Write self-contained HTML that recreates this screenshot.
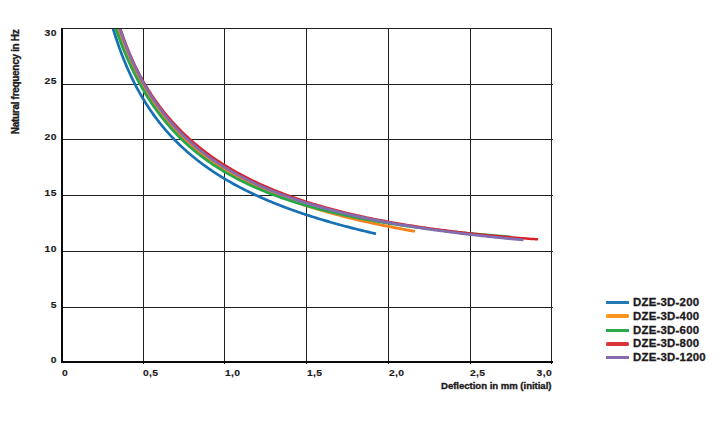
<!DOCTYPE html>
<html><head><meta charset="utf-8"><style>
html,body{margin:0;padding:0;background:#fff;width:722px;height:425px;overflow:hidden}
svg{display:block}
text{font-family:"Liberation Sans",sans-serif;font-weight:bold;fill:#1d1a1c;stroke:#1d1a1c;stroke-width:0.15px}
.t{font-size:9px;letter-spacing:0.3px}
.ti{font-size:9.6px;stroke-width:0.35px}
.lg{font-size:10.8px;letter-spacing:0.2px;stroke-width:0.3px}
</style></head><body>
<svg width="722" height="425" viewBox="0 0 722 425">
<defs><clipPath id="pc"><rect x="62" y="29" width="490" height="333"/></clipPath></defs>
<g shape-rendering="crispEdges">
<rect x="62" y="28" width="490" height="1" fill="#231f20"/>
<rect x="143" y="28" width="1" height="336" fill="#231f20"/>
<rect x="224" y="28" width="1" height="336" fill="#231f20"/>
<rect x="306" y="28" width="1" height="336" fill="#231f20"/>
<rect x="388" y="28" width="1" height="336" fill="#231f20"/>
<rect x="470" y="28" width="1" height="336" fill="#231f20"/>
<rect x="551" y="28" width="1" height="336" fill="#231f20"/>
<rect x="62" y="84" width="491" height="1" fill="#231f20"/>
<rect x="62" y="139" width="491" height="1" fill="#231f20"/>
<rect x="62" y="195" width="491" height="1" fill="#231f20"/>
<rect x="62" y="251" width="491" height="1" fill="#231f20"/>
<rect x="62" y="307" width="491" height="1" fill="#231f20"/>
<rect x="61" y="28" width="2" height="335" fill="#0d0a0b"/>
<rect x="61" y="361" width="492" height="2" fill="#0d0a0b"/>
</g>
<g clip-path="url(#pc)" fill="none" stroke-linejoin="round">
<path d="M104.00,-6.13 L104.91,-2.14 L105.82,1.72 L106.73,5.46 L107.64,9.09 L108.55,12.61 L109.46,16.03 L110.37,19.35 L111.28,22.58 L112.19,25.73 L113.10,28.78 L114.01,31.76 L114.92,34.66 L115.83,37.49 L116.74,40.25 L117.65,42.93 L118.56,45.56 L119.46,48.12 L120.37,50.62 L121.28,53.06 L122.19,55.45 L123.10,57.79 L124.01,60.07 L124.92,62.30 L125.83,64.49 L126.74,66.63 L127.65,68.73 L128.56,70.78 L129.47,72.79 L130.38,74.77 L131.29,76.70 L132.20,78.60 L133.11,80.46 L134.02,82.28 L134.93,84.07 L135.84,85.83 L136.75,87.56 L137.66,89.25 L138.57,90.92 L139.48,92.55 L140.39,94.16 L141.30,95.74 L142.21,97.29 L143.12,98.82 L144.03,100.32 L144.94,101.80 L145.85,103.26 L146.76,104.69 L147.67,106.10 L148.58,107.48 L149.48,108.85 L150.39,110.19 L151.30,111.52 L152.21,112.82 L153.12,114.11 L154.03,115.37 L154.94,116.62 L155.85,117.85 L156.76,119.06 L157.67,120.26 L158.58,121.43 L159.49,122.60 L160.40,123.74 L161.31,124.87 L162.22,125.99 L163.13,127.09 L164.04,128.18 L164.95,129.25 L165.86,130.31 L166.77,131.35 L167.68,132.38 L168.59,133.40 L169.50,134.40 L170.41,135.40 L171.32,136.38 L172.23,137.35 L173.14,138.30 L174.05,139.25 L174.96,140.18 L175.87,141.11 L176.78,142.02 L177.69,142.92 L178.60,143.81 L179.51,144.69 L180.41,145.57 L181.32,146.43 L182.23,147.28 L183.14,148.12 L184.05,148.95 L184.96,149.78 L185.87,150.59 L186.78,151.40 L187.69,152.20 L188.60,152.99 L189.51,153.77 L190.42,154.54 L191.33,155.30 L192.24,156.06 L193.15,156.81 L194.06,157.55 L194.97,158.29 L195.88,159.01 L196.79,159.73 L197.70,160.44 L198.61,161.15 L199.52,161.85 L200.43,162.54 L201.34,163.23 L202.25,163.90 L203.16,164.58 L204.07,165.24 L204.98,165.90 L205.89,166.55 L206.80,167.20 L207.71,167.84 L208.62,168.48 L209.53,169.11 L210.43,169.73 L211.34,170.35 L212.25,170.96 L213.16,171.57 L214.07,172.17 L214.98,172.77 L215.89,173.36 L216.80,173.95 L217.71,174.53 L218.62,175.11 L219.53,175.68 L220.44,176.25 L221.35,176.81 L222.26,177.36 L223.17,177.92 L224.08,178.47 L224.99,179.01 L225.90,179.55 L226.81,180.08 L227.72,180.61 L228.63,181.14 L229.54,181.66 L230.45,182.18 L231.36,182.69 L232.27,183.20 L233.18,183.71 L234.09,184.21 L235.00,184.71 L235.91,185.20 L236.82,185.69 L237.73,186.18 L238.64,186.66 L239.55,187.14 L240.45,187.62 L241.36,188.09 L242.27,188.56 L243.18,189.03 L244.09,189.49 L245.00,189.95 L245.91,190.40 L246.82,190.85 L247.73,191.30 L248.64,191.75 L249.55,192.19 L250.46,192.63 L251.37,193.06 L252.28,193.50 L253.19,193.93 L254.10,194.35 L255.01,194.78 L255.92,195.20 L256.83,195.62 L257.74,196.03 L258.65,196.44 L259.56,196.85 L260.47,197.26 L261.38,197.66 L262.29,198.07 L263.20,198.46 L264.11,198.86 L265.02,199.25 L265.93,199.65 L266.84,200.03 L267.75,200.42 L268.66,200.80 L269.57,201.18 L270.47,201.56 L271.38,201.94 L272.29,202.31 L273.20,202.68 L274.11,203.05 L275.02,203.42 L275.93,203.78 L276.84,204.15 L277.75,204.50 L278.66,204.86 L279.57,205.22 L280.48,205.57 L281.39,205.92 L282.30,206.27 L283.21,206.62 L284.12,206.96 L285.03,207.31 L285.94,207.65 L286.85,207.98 L287.76,208.32 L288.67,208.66 L289.58,208.99 L290.49,209.32 L291.40,209.65 L292.31,209.98 L293.22,210.30 L294.13,210.62 L295.04,210.94 L295.95,211.26 L296.86,211.58 L297.77,211.90 L298.68,212.21 L299.59,212.52 L300.49,212.83 L301.40,213.14 L302.31,213.45 L303.22,213.76 L304.13,214.06 L305.04,214.36 L305.95,214.66 L306.86,214.96 L307.77,215.26 L308.68,215.55 L309.59,215.85 L310.50,216.14 L311.41,216.43 L312.32,216.72 L313.23,217.01 L314.14,217.29 L315.05,217.58 L315.96,217.86 L316.87,218.14 L317.78,218.42 L318.69,218.70 L319.60,218.98 L320.51,219.25 L321.42,219.53 L322.33,219.80 L323.24,220.07 L324.15,220.34 L325.06,220.61 L325.97,220.88 L326.88,221.15 L327.79,221.41 L328.70,221.67 L329.61,221.94 L330.52,222.20 L331.42,222.46 L332.33,222.71 L333.24,222.97 L334.15,223.23 L335.06,223.48 L335.97,223.74 L336.88,223.99 L337.79,224.24 L338.70,224.49 L339.61,224.74 L340.52,224.98 L341.43,225.23 L342.34,225.47 L343.25,225.72 L344.16,225.96 L345.07,226.20 L345.98,226.44 L346.89,226.68 L347.80,226.92 L348.71,227.16 L349.62,227.39 L350.53,227.63 L351.44,227.86 L352.35,228.09 L353.26,228.32 L354.17,228.55 L355.08,228.78 L355.99,229.01 L356.90,229.24 L357.81,229.46 L358.72,229.69 L359.63,229.91 L360.54,230.14 L361.44,230.36 L362.35,230.58 L363.26,230.80 L364.17,231.02 L365.08,231.24 L365.99,231.46 L366.90,231.67 L367.81,231.89 L368.72,232.10 L369.63,232.32 L370.54,232.53 L371.45,232.74 L372.36,232.95 L373.27,233.16 L374.18,233.37 L375.09,233.58 L376.00,233.78" stroke="#1770b4" stroke-width="2.7" stroke-linecap="butt"/>
<path d="M104.00,-17.29 L105.04,-13.09 L106.08,-9.02 L107.12,-5.06 L108.16,-1.21 L109.20,2.53 L110.24,6.17 L111.28,9.72 L112.32,13.17 L113.36,16.54 L114.40,19.82 L115.44,23.01 L116.48,26.13 L117.52,29.17 L118.56,32.14 L119.60,35.04 L120.64,37.87 L121.68,40.63 L122.72,43.34 L123.76,45.98 L124.80,48.56 L125.84,51.09 L126.88,53.56 L127.92,55.98 L128.96,58.34 L130.00,60.66 L131.04,62.93 L132.08,65.16 L133.12,67.34 L134.16,69.47 L135.20,71.57 L136.24,73.62 L137.28,75.64 L138.32,77.61 L139.36,79.55 L140.40,81.45 L141.44,83.32 L142.48,85.15 L143.53,86.95 L144.57,88.72 L145.61,90.46 L146.65,92.16 L147.69,93.84 L148.73,95.49 L149.77,97.11 L150.81,98.70 L151.85,100.27 L152.89,101.81 L153.93,103.33 L154.97,104.82 L156.01,106.28 L157.05,107.73 L158.09,109.15 L159.13,110.55 L160.17,111.93 L161.21,113.28 L162.25,114.62 L163.29,115.93 L164.33,117.23 L165.37,118.51 L166.41,119.76 L167.45,121.00 L168.49,122.23 L169.53,123.43 L170.57,124.62 L171.61,125.79 L172.65,126.94 L173.69,128.08 L174.73,129.20 L175.77,130.31 L176.81,131.40 L177.85,132.48 L178.89,133.54 L179.93,134.59 L180.97,135.63 L182.01,136.65 L183.05,137.66 L184.09,138.65 L185.13,139.64 L186.17,140.61 L187.21,141.57 L188.25,142.51 L189.29,143.45 L190.33,144.37 L191.37,145.28 L192.41,146.19 L193.45,147.08 L194.49,147.96 L195.53,148.82 L196.57,149.68 L197.61,150.53 L198.65,151.37 L199.69,152.20 L200.73,153.02 L201.77,153.83 L202.81,154.63 L203.85,155.42 L204.89,156.21 L205.93,156.98 L206.97,157.75 L208.01,158.51 L209.05,159.26 L210.09,160.00 L211.13,160.73 L212.17,161.46 L213.21,162.17 L214.25,162.88 L215.29,163.59 L216.33,164.28 L217.37,164.97 L218.41,165.65 L219.45,166.33 L220.49,166.99 L221.54,167.65 L222.58,168.31 L223.62,168.95 L224.66,169.60 L225.70,170.23 L226.74,170.86 L227.78,171.48 L228.82,172.10 L229.86,172.71 L230.90,173.31 L231.94,173.91 L232.98,174.50 L234.02,175.09 L235.06,175.67 L236.10,176.24 L237.14,176.82 L238.18,177.38 L239.22,177.94 L240.26,178.50 L241.30,179.05 L242.34,179.59 L243.38,180.13 L244.42,180.67 L245.46,181.20 L246.50,181.72 L247.54,182.24 L248.58,182.76 L249.62,183.27 L250.66,183.78 L251.70,184.28 L252.74,184.78 L253.78,185.27 L254.82,185.76 L255.86,186.25 L256.90,186.73 L257.94,187.21 L258.98,187.68 L260.02,188.15 L261.06,188.62 L262.10,189.08 L263.14,189.54 L264.18,189.99 L265.22,190.44 L266.26,190.89 L267.30,191.33 L268.34,191.77 L269.38,192.21 L270.42,192.64 L271.46,193.07 L272.50,193.49 L273.54,193.92 L274.58,194.34 L275.62,194.75 L276.66,195.16 L277.70,195.57 L278.74,195.98 L279.78,196.38 L280.82,196.78 L281.86,197.18 L282.90,197.57 L283.94,197.96 L284.98,198.35 L286.02,198.74 L287.06,199.12 L288.10,199.50 L289.14,199.88 L290.18,200.25 L291.22,200.62 L292.26,200.99 L293.30,201.35 L294.34,201.72 L295.38,202.08 L296.42,202.44 L297.46,202.79 L298.51,203.14 L299.55,203.49 L300.59,203.84 L301.63,204.19 L302.67,204.53 L303.71,204.87 L304.75,205.21 L305.79,205.54 L306.83,205.88 L307.87,206.21 L308.91,206.54 L309.95,206.87 L310.99,207.19 L312.03,207.51 L313.07,207.83 L314.11,208.15 L315.15,208.47 L316.19,208.78 L317.23,209.09 L318.27,209.40 L319.31,209.71 L320.35,210.01 L321.39,210.32 L322.43,210.62 L323.47,210.92 L324.51,211.22 L325.55,211.51 L326.59,211.80 L327.63,212.10 L328.67,212.39 L329.71,212.67 L330.75,212.96 L331.79,213.24 L332.83,213.53 L333.87,213.81 L334.91,214.09 L335.95,214.37 L336.99,214.64 L338.03,214.91 L339.07,215.19 L340.11,215.46 L341.15,215.73 L342.19,215.99 L343.23,216.26 L344.27,216.52 L345.31,216.79 L346.35,217.05 L347.39,217.31 L348.43,217.56 L349.47,217.82 L350.51,218.07 L351.55,218.33 L352.59,218.58 L353.63,218.83 L354.67,219.08 L355.71,219.33 L356.75,219.57 L357.79,219.82 L358.83,220.06 L359.87,220.30 L360.91,220.54 L361.95,220.78 L362.99,221.02 L364.03,221.25 L365.07,221.49 L366.11,221.72 L367.15,221.95 L368.19,222.18 L369.23,222.41 L370.27,222.64 L371.31,222.87 L372.35,223.09 L373.39,223.32 L374.43,223.54 L375.47,223.76 L376.52,223.98 L377.56,224.20 L378.60,224.42 L379.64,224.64 L380.68,224.85 L381.72,225.07 L382.76,225.28 L383.80,225.49 L384.84,225.71 L385.88,225.92 L386.92,226.12 L387.96,226.33 L389.00,226.54 L390.04,226.74 L391.08,226.95 L392.12,227.15 L393.16,227.36 L394.20,227.56 L395.24,227.76 L396.28,227.96 L397.32,228.15 L398.36,228.35 L399.40,228.55 L400.44,228.74 L401.48,228.94 L402.52,229.13 L403.56,229.32 L404.60,229.51 L405.64,229.70 L406.68,229.89 L407.72,230.08 L408.76,230.27 L409.80,230.46 L410.84,230.64 L411.88,230.83 L412.92,231.01 L413.96,231.19 L415.00,231.37" stroke="#f5821f" stroke-width="2.9" stroke-linecap="butt"/>
<path d="M104.00,-10.80 L105.36,-5.66 L106.72,-0.69 L108.08,4.12 L109.44,8.77 L110.80,13.28 L112.16,17.64 L113.52,21.87 L114.88,25.96 L116.24,29.94 L117.60,33.80 L118.95,37.54 L120.31,41.18 L121.67,44.72 L123.03,48.15 L124.39,51.49 L125.75,54.74 L127.11,57.91 L128.47,60.99 L129.83,63.99 L131.19,66.91 L132.55,69.76 L133.91,72.53 L135.27,75.24 L136.63,77.88 L137.99,80.46 L139.35,82.97 L140.71,85.43 L142.07,87.82 L143.43,90.17 L144.79,92.46 L146.15,94.69 L147.51,96.88 L148.86,99.02 L150.22,101.11 L151.58,103.16 L152.94,105.16 L154.30,107.12 L155.66,109.04 L157.02,110.92 L158.38,112.76 L159.74,114.57 L161.10,116.33 L162.46,118.07 L163.82,119.76 L165.18,121.43 L166.54,123.06 L167.90,124.66 L169.26,126.23 L170.62,127.77 L171.98,129.29 L173.34,130.77 L174.70,132.23 L176.06,133.66 L177.41,135.06 L178.77,136.44 L180.13,137.80 L181.49,139.13 L182.85,140.44 L184.21,141.72 L185.57,142.99 L186.93,144.23 L188.29,145.45 L189.65,146.65 L191.01,147.83 L192.37,148.99 L193.73,150.13 L195.09,151.26 L196.45,152.36 L197.81,153.45 L199.17,154.52 L200.53,155.57 L201.89,156.61 L203.25,157.63 L204.61,158.64 L205.96,159.63 L207.32,160.60 L208.68,161.56 L210.04,162.51 L211.40,163.44 L212.76,164.36 L214.12,165.26 L215.48,166.15 L216.84,167.03 L218.20,167.90 L219.56,168.75 L220.92,169.59 L222.28,170.42 L223.64,171.24 L225.00,172.04 L226.36,172.84 L227.72,173.62 L229.08,174.39 L230.44,175.16 L231.80,175.91 L233.16,176.65 L234.52,177.38 L235.87,178.10 L237.23,178.82 L238.59,179.52 L239.95,180.21 L241.31,180.90 L242.67,181.57 L244.03,182.24 L245.39,182.90 L246.75,183.55 L248.11,184.19 L249.47,184.83 L250.83,185.45 L252.19,186.07 L253.55,186.68 L254.91,187.28 L256.27,187.88 L257.63,188.47 L258.99,189.05 L260.35,189.62 L261.71,190.19 L263.07,190.75 L264.42,191.30 L265.78,191.85 L267.14,192.39 L268.50,192.92 L269.86,193.45 L271.22,193.97 L272.58,194.49 L273.94,195.00 L275.30,195.50 L276.66,196.00 L278.02,196.49 L279.38,196.98 L280.74,197.46 L282.10,197.93 L283.46,198.40 L284.82,198.87 L286.18,199.33 L287.54,199.78 L288.90,200.23 L290.26,200.68 L291.62,201.12 L292.97,201.55 L294.33,201.98 L295.69,202.41 L297.05,202.83 L298.41,203.25 L299.77,203.66 L301.13,204.07 L302.49,204.47 L303.85,204.87 L305.21,205.26 L306.57,205.65 L307.93,206.04 L309.29,206.42 L310.65,206.80 L312.01,207.18 L313.37,207.55 L314.73,207.91 L316.09,208.28 L317.45,208.64 L318.81,208.99 L320.17,209.34 L321.53,209.69 L322.88,210.04 L324.24,210.38 L325.60,210.72 L326.96,211.05 L328.32,211.38 L329.68,211.71 L331.04,212.04 L332.40,212.36 L333.76,212.68 L335.12,212.99 L336.48,213.30 L337.84,213.61 L339.20,213.92 L340.56,214.22 L341.92,214.52 L343.28,214.82 L344.64,215.12 L346.00,215.41 L347.36,215.70 L348.72,215.98 L350.08,216.27 L351.43,216.55 L352.79,216.82 L354.15,217.10 L355.51,217.37 L356.87,217.64 L358.23,217.91 L359.59,218.18 L360.95,218.44 L362.31,218.70 L363.67,218.96 L365.03,219.21 L366.39,219.47 L367.75,219.72 L369.11,219.97 L370.47,220.21 L371.83,220.46 L373.19,220.70 L374.55,220.94 L375.91,221.17 L377.27,221.41 L378.63,221.64 L379.98,221.87 L381.34,222.10 L382.70,222.33 L384.06,222.55 L385.42,222.78 L386.78,223.00 L388.14,223.22 L389.50,223.43 L390.86,223.65 L392.22,223.86 L393.58,224.07 L394.94,224.28 L396.30,224.49 L397.66,224.69 L399.02,224.90 L400.38,225.10 L401.74,225.30 L403.10,225.50 L404.46,225.69 L405.82,225.89 L407.18,226.08 L408.54,226.27 L409.89,226.46 L411.25,226.65 L412.61,226.84 L413.97,227.02 L415.33,227.21 L416.69,227.39 L418.05,227.57 L419.41,227.75 L420.77,227.93 L422.13,228.10 L423.49,228.27 L424.85,228.45 L426.21,228.62 L427.57,228.79 L428.93,228.96 L430.29,229.12 L431.65,229.29 L433.01,229.45 L434.37,229.61 L435.73,229.78 L437.09,229.94 L438.44,230.09 L439.80,230.25 L441.16,230.41 L442.52,230.56 L443.88,230.71 L445.24,230.87 L446.60,231.02 L447.96,231.17 L449.32,231.31 L450.68,231.46 L452.04,231.61 L453.40,231.75 L454.76,231.89 L456.12,232.04 L457.48,232.18 L458.84,232.32 L460.20,232.45 L461.56,232.59 L462.92,232.73 L464.28,232.86 L465.64,233.00 L466.99,233.13 L468.35,233.26 L469.71,233.39 L471.07,233.52 L472.43,233.65 L473.79,233.78 L475.15,233.90 L476.51,234.03 L477.87,234.15 L479.23,234.27 L480.59,234.40 L481.95,234.52 L483.31,234.64 L484.67,234.75 L486.03,234.87 L487.39,234.99 L488.75,235.11 L490.11,235.22 L491.47,235.33 L492.83,235.45 L494.19,235.56 L495.55,235.67 L496.90,235.78 L498.26,235.89 L499.62,236.00 L500.98,236.11 L502.34,236.21 L503.70,236.32 L505.06,236.42 L506.42,236.53 L507.78,236.63 L509.14,236.73 L510.50,236.83" stroke="#24a84a" stroke-width="2.7" stroke-linecap="butt"/>
<path d="M104.00,-39.62 L105.45,-31.52 L106.90,-23.96 L108.34,-16.89 L109.79,-10.25 L111.24,-3.99 L112.69,1.92 L114.14,7.51 L115.59,12.82 L117.03,17.87 L118.48,22.67 L119.93,27.26 L121.38,31.65 L122.83,35.85 L124.27,39.88 L125.72,43.75 L127.17,47.48 L128.62,51.06 L130.07,54.52 L131.52,57.85 L132.96,61.08 L134.41,64.19 L135.86,67.21 L137.31,70.14 L138.76,72.97 L140.20,75.72 L141.65,78.40 L143.10,80.99 L144.55,83.52 L146.00,85.98 L147.44,88.37 L148.89,90.70 L150.34,92.97 L151.79,95.19 L153.24,97.35 L154.69,99.46 L156.13,101.53 L157.58,103.54 L159.03,105.51 L160.48,107.44 L161.93,109.32 L163.37,111.16 L164.82,112.97 L166.27,114.74 L167.72,116.47 L169.17,118.17 L170.62,119.83 L172.06,121.46 L173.51,123.06 L174.96,124.63 L176.41,126.17 L177.86,127.68 L179.30,129.16 L180.75,130.62 L182.20,132.05 L183.65,133.46 L185.10,134.84 L186.55,136.19 L187.99,137.53 L189.44,138.84 L190.89,140.13 L192.34,141.40 L193.79,142.65 L195.23,143.87 L196.68,145.08 L198.13,146.27 L199.58,147.44 L201.03,148.59 L202.47,149.73 L203.92,150.84 L205.37,151.94 L206.82,153.03 L208.27,154.09 L209.72,155.15 L211.16,156.18 L212.61,157.20 L214.06,158.21 L215.51,159.20 L216.96,160.18 L218.40,161.14 L219.85,162.09 L221.30,163.03 L222.75,163.95 L224.20,164.87 L225.65,165.76 L227.09,166.65 L228.54,167.53 L229.99,168.39 L231.44,169.24 L232.89,170.08 L234.33,170.91 L235.78,171.73 L237.23,172.54 L238.68,173.34 L240.13,174.13 L241.58,174.90 L243.02,175.67 L244.47,176.43 L245.92,177.18 L247.37,177.92 L248.82,178.65 L250.26,179.37 L251.71,180.08 L253.16,180.79 L254.61,181.48 L256.06,182.17 L257.51,182.85 L258.95,183.52 L260.40,184.18 L261.85,184.84 L263.30,185.48 L264.75,186.12 L266.19,186.76 L267.64,187.38 L269.09,188.00 L270.54,188.61 L271.99,189.21 L273.43,189.81 L274.88,190.40 L276.33,190.98 L277.78,191.56 L279.23,192.13 L280.68,192.69 L282.12,193.25 L283.57,193.80 L285.02,194.35 L286.47,194.89 L287.92,195.42 L289.36,195.95 L290.81,196.47 L292.26,196.99 L293.71,197.50 L295.16,198.00 L296.61,198.50 L298.05,199.00 L299.50,199.49 L300.95,199.97 L302.40,200.45 L303.85,200.92 L305.29,201.39 L306.74,201.86 L308.19,202.32 L309.64,202.77 L311.09,203.22 L312.54,203.67 L313.98,204.11 L315.43,204.54 L316.88,204.97 L318.33,205.40 L319.78,205.82 L321.22,206.24 L322.67,206.66 L324.12,207.07 L325.57,207.47 L327.02,207.87 L328.46,208.27 L329.91,208.66 L331.36,209.05 L332.81,209.44 L334.26,209.82 L335.71,210.20 L337.15,210.58 L338.60,210.95 L340.05,211.31 L341.50,211.68 L342.95,212.04 L344.39,212.39 L345.84,212.75 L347.29,213.10 L348.74,213.44 L350.19,213.79 L351.64,214.13 L353.08,214.46 L354.53,214.79 L355.98,215.12 L357.43,215.45 L358.88,215.77 L360.32,216.09 L361.77,216.41 L363.22,216.73 L364.67,217.04 L366.12,217.35 L367.57,217.65 L369.01,217.95 L370.46,218.25 L371.91,218.55 L373.36,218.85 L374.81,219.14 L376.25,219.43 L377.70,219.71 L379.15,219.99 L380.60,220.27 L382.05,220.55 L383.49,220.83 L384.94,221.10 L386.39,221.37 L387.84,221.64 L389.29,221.90 L390.74,222.17 L392.18,222.43 L393.63,222.68 L395.08,222.94 L396.53,223.19 L397.98,223.44 L399.42,223.69 L400.87,223.94 L402.32,224.18 L403.77,224.42 L405.22,224.66 L406.67,224.90 L408.11,225.14 L409.56,225.37 L411.01,225.60 L412.46,225.83 L413.91,226.05 L415.35,226.28 L416.80,226.50 L418.25,226.72 L419.70,226.94 L421.15,227.16 L422.60,227.37 L424.04,227.58 L425.49,227.79 L426.94,228.00 L428.39,228.21 L429.84,228.41 L431.28,228.62 L432.73,228.82 L434.18,229.02 L435.63,229.21 L437.08,229.41 L438.53,229.60 L439.97,229.79 L441.42,229.98 L442.87,230.17 L444.32,230.36 L445.77,230.54 L447.21,230.73 L448.66,230.91 L450.11,231.09 L451.56,231.27 L453.01,231.44 L454.45,231.62 L455.90,231.79 L457.35,231.96 L458.80,232.14 L460.25,232.30 L461.70,232.47 L463.14,232.64 L464.59,232.80 L466.04,232.96 L467.49,233.12 L468.94,233.28 L470.38,233.44 L471.83,233.60 L473.28,233.75 L474.73,233.91 L476.18,234.06 L477.63,234.21 L479.07,234.36 L480.52,234.51 L481.97,234.65 L483.42,234.80 L484.87,234.94 L486.31,235.09 L487.76,235.23 L489.21,235.37 L490.66,235.51 L492.11,235.64 L493.56,235.78 L495.00,235.91 L496.45,236.05 L497.90,236.18 L499.35,236.31 L500.80,236.44 L502.24,236.57 L503.69,236.70 L505.14,236.82 L506.59,236.95 L508.04,237.07 L509.48,237.19 L510.93,237.31 L512.38,237.43 L513.83,237.55 L515.28,237.67 L516.73,237.79 L518.17,237.90 L519.62,238.02 L521.07,238.13 L522.52,238.24 L523.97,238.35 L525.41,238.46 L526.86,238.57 L528.31,238.68 L529.76,238.79 L531.21,238.89 L532.66,239.00 L534.10,239.10 L535.55,239.20 L537.00,239.30" stroke="#da2128" stroke-width="2.5" stroke-linecap="round"/>
<path d="M104.00,-31.38 L105.40,-24.71 L106.81,-18.37 L108.21,-12.32 L109.61,-6.55 L111.02,-1.04 L112.42,4.23 L113.82,9.29 L115.22,14.14 L116.63,18.80 L118.03,23.28 L119.43,27.60 L120.84,31.76 L122.24,35.77 L123.64,39.64 L125.05,43.38 L126.45,47.00 L127.85,50.50 L129.25,53.89 L130.66,57.18 L132.06,60.37 L133.46,63.46 L134.87,66.46 L136.27,69.38 L137.67,72.22 L139.08,74.97 L140.48,77.66 L141.88,80.27 L143.28,82.81 L144.69,85.29 L146.09,87.71 L147.49,90.06 L148.90,92.36 L150.30,94.61 L151.70,96.80 L153.11,98.94 L154.51,101.02 L155.91,103.07 L157.31,105.06 L158.72,107.02 L160.12,108.93 L161.52,110.80 L162.93,112.62 L164.33,114.42 L165.73,116.17 L167.14,117.89 L168.54,119.57 L169.94,121.22 L171.34,122.84 L172.75,124.42 L174.15,125.98 L175.55,127.51 L176.96,129.00 L178.36,130.47 L179.76,131.91 L181.17,133.33 L182.57,134.72 L183.97,136.08 L185.37,137.43 L186.78,138.74 L188.18,140.04 L189.58,141.31 L190.99,142.56 L192.39,143.79 L193.79,145.00 L195.20,146.19 L196.60,147.36 L198.00,148.51 L199.40,149.65 L200.81,150.76 L202.21,151.86 L203.61,152.94 L205.02,154.00 L206.42,155.05 L207.82,156.08 L209.23,157.09 L210.63,158.09 L212.03,159.08 L213.43,160.05 L214.84,161.01 L216.24,161.95 L217.64,162.88 L219.05,163.79 L220.45,164.69 L221.85,165.58 L223.26,166.46 L224.66,167.33 L226.06,168.18 L227.46,169.02 L228.87,169.85 L230.27,170.67 L231.67,171.48 L233.08,172.27 L234.48,173.06 L235.88,173.84 L237.29,174.60 L238.69,175.36 L240.09,176.11 L241.49,176.84 L242.90,177.57 L244.30,178.29 L245.70,179.00 L247.11,179.70 L248.51,180.39 L249.91,181.07 L251.32,181.75 L252.72,182.41 L254.12,183.07 L255.53,183.72 L256.93,184.36 L258.33,185.00 L259.73,185.63 L261.14,186.25 L262.54,186.86 L263.94,187.46 L265.35,188.06 L266.75,188.65 L268.15,189.24 L269.56,189.82 L270.96,190.39 L272.36,190.95 L273.76,191.51 L275.17,192.07 L276.57,192.61 L277.97,193.15 L279.38,193.69 L280.78,194.22 L282.18,194.74 L283.59,195.26 L284.99,195.77 L286.39,196.28 L287.79,196.78 L289.20,197.27 L290.60,197.76 L292.00,198.25 L293.41,198.73 L294.81,199.20 L296.21,199.67 L297.62,200.14 L299.02,200.60 L300.42,201.05 L301.82,201.51 L303.23,201.95 L304.63,202.39 L306.03,202.83 L307.44,203.27 L308.84,203.69 L310.24,204.12 L311.65,204.54 L313.05,204.96 L314.45,205.37 L315.85,205.78 L317.26,206.18 L318.66,206.58 L320.06,206.98 L321.47,207.37 L322.87,207.76 L324.27,208.15 L325.68,208.53 L327.08,208.91 L328.48,209.28 L329.88,209.65 L331.29,210.02 L332.69,210.38 L334.09,210.74 L335.50,211.10 L336.90,211.45 L338.30,211.81 L339.71,212.15 L341.11,212.50 L342.51,212.84 L343.91,213.18 L345.32,213.51 L346.72,213.84 L348.12,214.17 L349.53,214.50 L350.93,214.82 L352.33,215.14 L353.74,215.46 L355.14,215.78 L356.54,216.09 L357.94,216.40 L359.35,216.70 L360.75,217.01 L362.15,217.31 L363.56,217.61 L364.96,217.91 L366.36,218.20 L367.77,218.49 L369.17,218.78 L370.57,219.07 L371.97,219.35 L373.38,219.63 L374.78,219.91 L376.18,220.19 L377.59,220.46 L378.99,220.73 L380.39,221.00 L381.80,221.27 L383.20,221.54 L384.60,221.80 L386.01,222.06 L387.41,222.32 L388.81,222.58 L390.21,222.83 L391.62,223.08 L393.02,223.33 L394.42,223.58 L395.83,223.83 L397.23,224.07 L398.63,224.32 L400.04,224.56 L401.44,224.79 L402.84,225.03 L404.24,225.27 L405.65,225.50 L407.05,225.73 L408.45,225.96 L409.86,226.19 L411.26,226.41 L412.66,226.64 L414.07,226.86 L415.47,227.08 L416.87,227.30 L418.27,227.52 L419.68,227.73 L421.08,227.94 L422.48,228.16 L423.89,228.37 L425.29,228.58 L426.69,228.78 L428.10,228.99 L429.50,229.19 L430.90,229.40 L432.30,229.60 L433.71,229.80 L435.11,229.99 L436.51,230.19 L437.92,230.39 L439.32,230.58 L440.72,230.77 L442.13,230.96 L443.53,231.15 L444.93,231.34 L446.33,231.52 L447.74,231.71 L449.14,231.89 L450.54,232.08 L451.95,232.26 L453.35,232.44 L454.75,232.61 L456.16,232.79 L457.56,232.97 L458.96,233.14 L460.36,233.31 L461.77,233.49 L463.17,233.66 L464.57,233.83 L465.98,233.99 L467.38,234.16 L468.78,234.33 L470.19,234.49 L471.59,234.65 L472.99,234.82 L474.39,234.98 L475.80,235.14 L477.20,235.29 L478.60,235.45 L480.01,235.61 L481.41,235.76 L482.81,235.92 L484.22,236.07 L485.62,236.22 L487.02,236.37 L488.42,236.52 L489.83,236.67 L491.23,236.82 L492.63,236.97 L494.04,237.11 L495.44,237.26 L496.84,237.40 L498.25,237.54 L499.65,237.68 L501.05,237.82 L502.45,237.96 L503.86,238.10 L505.26,238.24 L506.66,238.38 L508.07,238.51 L509.47,238.65 L510.87,238.78 L512.28,238.91 L513.68,239.04 L515.08,239.18 L516.48,239.31 L517.89,239.43 L519.29,239.56 L520.69,239.69 L522.10,239.82 L523.50,239.94" stroke="#836cb0" stroke-width="2.8" stroke-linecap="butt"/>
</g>
<text transform="translate(56.8,36) scale(1.15,1)" text-anchor="end" class="t">30</text>
<text transform="translate(56.8,84) scale(1.15,1)" text-anchor="end" class="t">25</text>
<text transform="translate(56.8,140) scale(1.15,1)" text-anchor="end" class="t">20</text>
<text transform="translate(56.8,196) scale(1.15,1)" text-anchor="end" class="t">15</text>
<text transform="translate(56.8,252) scale(1.15,1)" text-anchor="end" class="t">10</text>
<text transform="translate(56.8,307.5) scale(1.15,1)" text-anchor="end" class="t">5</text>
<text transform="translate(56.8,363) scale(1.15,1)" text-anchor="end" class="t">0</text>
<text transform="translate(62,376) scale(1.15,1)" text-anchor="start" class="t">0</text>
<text transform="translate(143,376) scale(1.15,1)" text-anchor="start" class="t">0,5</text>
<text transform="translate(225,376) scale(1.15,1)" text-anchor="start" class="t">1,0</text>
<text transform="translate(307,376) scale(1.15,1)" text-anchor="start" class="t">1,5</text>
<text transform="translate(389,376) scale(1.15,1)" text-anchor="start" class="t">2,0</text>
<text transform="translate(470,376) scale(1.15,1)" text-anchor="start" class="t">2,5</text>
<text transform="translate(552,376) scale(1.15,1)" text-anchor="end" class="t">3,0</text>
<text x="551.5" y="389" text-anchor="end" class="ti" textLength="110.5" lengthAdjust="spacing">Deflection in mm (initial)</text>
<text transform="translate(18.7,134.2) rotate(-90)" class="ti" style="font-size:10px" textLength="105" lengthAdjust="spacing">Natural frequency in Hz</text>
<rect x="606" y="301" width="23" height="3" fill="#237bb5" shape-rendering="crispEdges"/>
<text transform="translate(633,305.8) scale(1.06,1)" class="lg">DZE-3D-200</text>
<rect x="606" y="314" width="23" height="4" rx="1.6" ry="1.6" fill="#f7941e"/>
<text transform="translate(633,319.5) scale(1.06,1)" class="lg">DZE-3D-400</text>
<rect x="606" y="329" width="23" height="3" fill="#2aa84b" shape-rendering="crispEdges"/>
<text transform="translate(633,333.5) scale(1.06,1)" class="lg">DZE-3D-600</text>
<rect x="606" y="342" width="23" height="4" rx="1.6" ry="1.6" fill="#dc3338"/>
<text transform="translate(633,347.1) scale(1.06,1)" class="lg">DZE-3D-800</text>
<rect x="606" y="356" width="23" height="3" fill="#876bad" shape-rendering="crispEdges"/>
<text transform="translate(633,360.7) scale(1.06,1)" class="lg">DZE-3D-1200</text>
</svg>
</body></html>
